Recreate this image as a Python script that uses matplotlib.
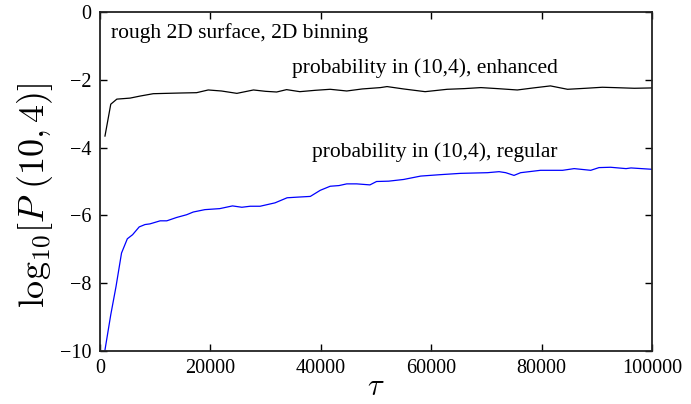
import matplotlib
matplotlib.use("Agg")
import matplotlib.pyplot as plt

plt.rcParams["font.family"] = ["Liberation Serif", "DejaVu Serif"]
plt.rcParams["mathtext.fontset"] = "cm"

# enhanced sampling run (black)
tau_enh = [900, 1950, 3050, 5450, 7250, 9650, 12000, 14500, 17500, 19600,
           22000, 24800, 27800, 30000, 32000, 33800, 36200, 39000, 41700,
           44700, 47500, 50800, 52000, 55000, 58900, 62900, 66000, 69000,
           72000, 75600, 78500, 81600, 84700, 88000, 91000, 93100, 96800,
           100000]
logp_enh = [-3.66, -2.72, -2.57, -2.54, -2.48, -2.41, -2.40, -2.39, -2.38,
            -2.30, -2.33, -2.40, -2.30, -2.34, -2.36, -2.29, -2.35, -2.31,
            -2.28, -2.33, -2.27, -2.23, -2.20, -2.27, -2.35, -2.28, -2.26,
            -2.23, -2.26, -2.30, -2.24, -2.18, -2.28, -2.25, -2.22, -2.23,
            -2.25, -2.24]

# regular sampling run (blue)
tau_reg = [900, 1950, 2900, 3900, 4950, 5900, 7100, 8150, 9050, 10900,
           12100, 13900, 15700, 16900, 19000, 21700, 24000, 25700, 27200,
           29000, 31700, 33900, 35900, 38100, 39900, 41700, 43300, 44700,
           46500, 48900, 50100, 52300, 55000, 58100, 61500, 65300, 70200,
           72300, 73500, 75000, 76200, 79800, 83800, 85900, 88900, 90400,
           92500, 95300, 96200, 100000]
logp_reg = [-9.97, -8.93, -8.10, -7.11, -6.69, -6.57, -6.34, -6.27, -6.25,
            -6.16, -6.16, -6.06, -5.98, -5.90, -5.83, -5.80, -5.72, -5.76,
            -5.73, -5.73, -5.63, -5.48, -5.46, -5.44, -5.26, -5.14, -5.12,
            -5.07, -5.07, -5.10, -5.00, -4.99, -4.94, -4.84, -4.80, -4.76,
            -4.74, -4.71, -4.74, -4.82, -4.74, -4.67, -4.67, -4.62, -4.67,
            -4.59, -4.58, -4.62, -4.60, -4.64]

fig = plt.figure(figsize=(6.91, 4.04), dpi=100)
ax = fig.add_axes([100 / 691, 1 - 351 / 404, 552 / 691, 339 / 404])

ax.plot(tau_enh, logp_enh, color="black", lw=0.9)
ax.plot(tau_reg, logp_reg, color="blue", lw=0.9)

ax.set_xlim(0, 100000)
ax.set_ylim(-10, 0)
ax.set_xticks([0, 20000, 40000, 60000, 80000, 100000])
ax.set_yticks([-10, -8, -6, -4, -2, 0])
ax.tick_params(direction="in", length=5, width=1, labelsize=14.5,
               top=True, right=True, pad=6)
for sp in ax.spines.values():
    sp.set_linewidth(1.3)
    sp.set_color("#222222")

ax.set_xlabel(r"$\tau$", fontsize=22, labelpad=-4)
ax.set_ylabel(r"$\mathrm{log}_{10}[P\ (10,4)]$", fontsize=26)
ax.yaxis.set_label_coords(-0.082, 0.46)

ax.text(2000, -0.61, "rough 2D surface, 2D binning", fontsize=15.5, va="center")
ax.text(34800, -1.65, "probability in (10,4), enhanced", fontsize=15.5, va="center")
ax.text(38400, -4.13, "probability in (10,4), regular", fontsize=15.5, va="center")

fig.savefig("out.png", dpi=100)
